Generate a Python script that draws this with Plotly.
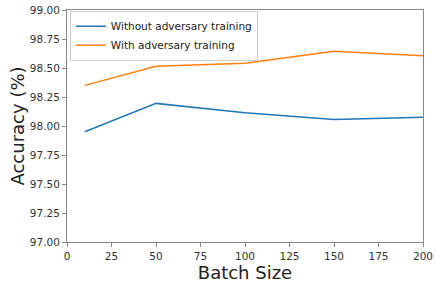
import plotly.graph_objects as go

batch_sizes = [10, 50, 100, 150, 200]
acc_without = [97.95, 98.195, 98.115, 98.055, 98.075]
acc_with = [98.35, 98.515, 98.54, 98.645, 98.605]
series_names = ["Without adversary training", "With adversary training"]
y_ticks = [97.00, 97.25, 97.50, 97.75, 98.00, 98.25, 98.50, 98.75, 99.00]
x_ticks = [0, 25, 50, 75, 100, 125, 150, 175, 200]

fig = go.Figure()
fig.add_trace(go.Scatter(x=batch_sizes, y=acc_without, mode="lines", name=series_names[0],
                         line=dict(color="#1f77b4", width=1.5)))
fig.add_trace(go.Scatter(x=batch_sizes, y=acc_with, mode="lines", name=series_names[1],
                         line=dict(color="#ff7f0e", width=1.5)))

font_family = "DejaVu Sans"
fig.update_layout(
    width=436, height=294,
    margin=dict(l=67, r=13, t=10, b=52, autoexpand=False),
    paper_bgcolor="white", plot_bgcolor="white",
    font=dict(family=font_family, color="#333333", size=10.5),
    showlegend=True,
    legend=dict(x=0.008, y=0.997, xanchor="left", yanchor="top",
                bordercolor="#cccccc", borderwidth=1, bgcolor="rgba(255,255,255,0.8)",
                font=dict(size=10.5, color="#222222"), tracegroupgap=0,
                itemwidth=30),
    xaxis=dict(range=[0, 200], tickvals=x_ticks, ticktext=[str(v) for v in x_ticks],
               automargin=False,
               showgrid=False, zeroline=False, showline=True, linecolor="#888888", linewidth=1,
               mirror=True, ticks="outside", ticklen=4, tickcolor="#888888",
               title=dict(text="Batch Size", font=dict(size=18, color="#222222"), standoff=4),
               tickfont=dict(size=10.5, color="#333333")),
    yaxis=dict(range=[97.0, 99.0], tickvals=y_ticks, ticktext=[f"{v:.2f}" for v in y_ticks],
               automargin=False,
               showgrid=False, zeroline=False, showline=True, linecolor="#888888", linewidth=1,
               mirror=True, ticks="outside", ticklen=4, tickcolor="#888888",
               title=dict(text="Accuracy (%)", font=dict(size=18, color="#222222"), standoff=0),
               tickfont=dict(size=10.5, color="#333333")),
)

fig.write_html("out.html", config={"displayModeBar": False},
               post_script="document.body.style.margin='0';document.body.style.padding='0';")
